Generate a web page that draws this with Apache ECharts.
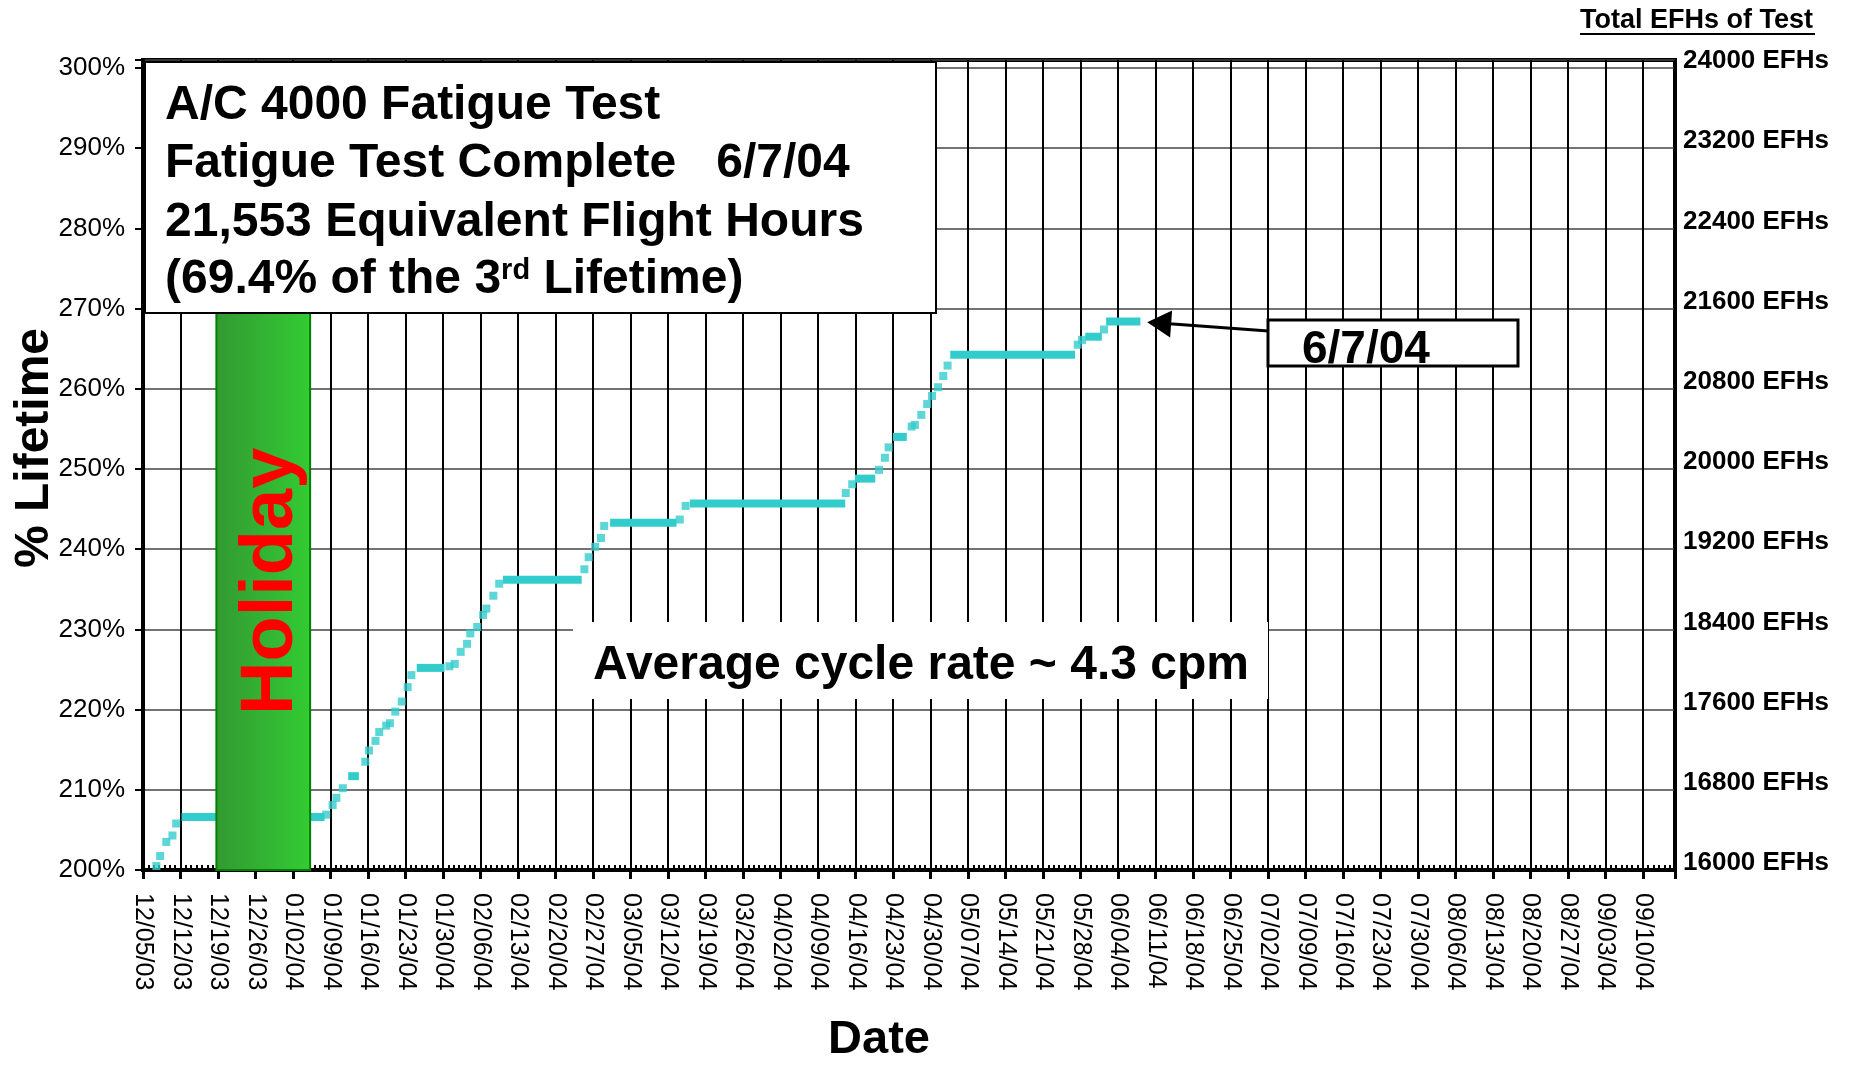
<!DOCTYPE html>
<html>
<head>
<meta charset="utf-8">
<title>A/C 4000 Fatigue Test</title>
<script src="https://cdn.jsdelivr.net/npm/echarts@6/dist/echarts.min.js"></script>
<style>
  html, body { margin: 0; padding: 0; background: #fff; }
  #chart { width: 1865px; height: 1067px; }
</style>
</head>
<body>
<div id="chart"></div>
<script>
// x values are days counted from 12/05/03 (first tick)
var weekLabels = ['12/05/03', '12/12/03', '12/19/03', '12/26/03', '01/02/04', '01/09/04', '01/16/04',
  '01/23/04', '01/30/04', '02/06/04', '02/13/04', '02/20/04', '02/27/04', '03/05/04', '03/12/04',
  '03/19/04', '03/26/04', '04/02/04', '04/09/04', '04/16/04', '04/23/04', '04/30/04', '05/07/04',
  '05/14/04', '05/21/04', '05/28/04', '06/04/04', '06/11/04', '06/18/04', '06/25/04', '07/02/04',
  '07/09/04', '07/16/04', '07/23/04', '07/30/04', '08/06/04', '08/13/04', '08/20/04', '08/27/04',
  '09/03/04', '09/10/04'];

// single test points (climbing parts)
var stepDays = [2.5, 3.2, 4.35, 5.5, 6.2, 34.2, 35.4, 36.1, 37.3, 41.5, 42.2, 43.4, 44.1, 45.4, 46.1,
  47.1, 48.3, 49.4, 50.1, 57.2, 58.2, 59.3, 60.5, 61.1, 62.4, 63.5, 64.1, 65.4, 66.5, 82.4, 83.2,
  84.4, 85.5, 86.1, 100.2, 101.3, 131.2, 132.4, 137.4, 138.5, 139.2, 143.5, 144.1, 145.3, 146.4,
  147.3, 148.4, 149.4, 150.2, 174.5, 175.3, 179.4];
var stepPct = [200.5, 201.75, 203.5, 204.3, 205.8, 206.9, 208.1, 209.0, 210.2, 213.5, 214.9, 216.1,
  217.2, 218.0, 218.3, 219.75, 221.0, 222.8, 224.3, 225.4, 225.7, 227.2, 228.2, 229.5, 230.3, 231.8,
  232.6, 234.2, 235.7, 237.5, 239.0, 240.3, 241.4, 242.9, 243.7, 245.4, 247.0, 248.1, 249.9, 251.4,
  252.7, 255.3, 255.5, 256.75, 258.1, 259.1, 260.2, 261.6, 262.9, 265.5, 266.1, 267.4];

// flat stretches (no cycling)
var flatFrom = [7.2, 38.3, 51.1, 67.2, 87.2, 102.1, 132.9, 140.0, 150.7, 175.9, 179.8];
var flatTo = [33.9, 40.3, 56.3, 81.9, 99.6, 131.1, 136.7, 142.6, 174.0, 179.0, 186.2];
var flatPct = [206.6, 211.7, 225.2, 236.2, 243.3, 245.7, 248.8, 254.0, 264.25, 266.5, 268.4];

var holidayFrom = 13.7;
var holidayTo = 31.2;

var efhPerPct = 80;   // 200% = 16000 EFHs, 300% = 24000 EFHs
var xMax = 286;
var yMin = 200, yMax = 301;

var FONT = '"Liberation Sans", Arial, sans-serif';
var CYAN = '#33cccc';

var chart = echarts.init(document.getElementById('chart'));

var stepData = stepDays.map(function (d, i) { return [d, stepPct[i]]; });
var lastDay = flatTo[flatTo.length - 1];
var lastPct = flatPct[flatPct.length - 1];

var flatSeries = flatFrom.map(function (d, i) {
  return {
    type: 'line',
    z: 3,
    silent: true,
    symbol: 'none',
    data: [[d, flatPct[i]], [flatTo[i], flatPct[i]]],
    lineStyle: { color: CYAN, width: 8, cap: 'butt' }
  };
});

function boldText(x, y, text, size) {
  return {
    type: 'text', z: 101, x: x, y: y,
    style: { text: text, fontSize: size, fontWeight: 'bold', fontFamily: FONT, fill: '#000', verticalAlign: 'middle' }
  };
}

var option = {
  animation: false,
  backgroundColor: '#fff',
  grid: {
    left: 143, right: 190, top: 60, bottom: 197,
    show: true, borderColor: '#000', borderWidth: 4,
    outerBoundsMode: 'none'
  },
  xAxis: [
    {
      type: 'value', min: 0, max: xMax, interval: 7, position: 'bottom',
      axisLine: { show: true, lineStyle: { color: '#000', width: 4 } },
      axisTick: { show: true, length: 9, lineStyle: { color: '#000', width: 3 } },
      axisLabel: {
        rotate: -90, margin: 23, fontSize: 25, color: '#000', fontFamily: FONT,
        formatter: function (v) { return v % 7 === 0 ? (weekLabels[v / 7] || '') : ''; }
      },
      splitLine: { show: true, lineStyle: { color: '#000', width: 2 } },
      name: 'Date', nameLocation: 'middle', nameGap: 147,
      nameTextStyle: { fontSize: 47, fontWeight: 'bold', color: '#000', fontFamily: FONT, padding: [0, 60, 0, 0] }
    },
    {
      type: 'value', min: 0, max: xMax, interval: 7, position: 'bottom',
      axisLine: { show: false },
      axisTick: { show: true, inside: true, length: 6, lineStyle: { color: '#000', width: 2 } },
      minorTick: { show: true, splitNumber: 7, length: 5, lineStyle: { color: '#000', width: 2 } },
      axisLabel: { show: false },
      splitLine: { show: false }
    }
  ],
  yAxis: [
    {
      type: 'value', min: yMin, max: yMax, interval: 10, position: 'left',
      axisLine: { show: true, lineStyle: { color: '#000', width: 4 } },
      axisTick: { show: true, length: 8, lineStyle: { color: '#000', width: 2 } },
      axisLabel: {
        fontSize: 26, color: '#000', margin: 18, fontFamily: FONT,
        formatter: function (v) { return v % 10 === 0 ? v + '%' : ''; }
      },
      splitLine: { show: true, lineStyle: { color: '#444', width: 1.5 } },
      name: '% Lifetime', nameLocation: 'middle', nameGap: 84, nameMoveOverlap: false,
      nameTextStyle: { fontSize: 48, fontWeight: 'bold', color: '#000', fontFamily: FONT, padding: [0, 0, 0, 34] }
    },
    {
      type: 'value', min: 16000, max: 16000 + (yMax - yMin) * efhPerPct, interval: 800, position: 'right',
      axisLine: { show: true, lineStyle: { color: '#000', width: 4 } },
      axisTick: { show: false },
      axisLabel: {
        fontSize: 26, fontWeight: 'bold', color: '#000', margin: 8, fontFamily: FONT,
        verticalAlign: 'bottom', lineHeight: 14,
        formatter: function (v) { return v % 800 === 0 ? v + ' EFHs' : ''; }
      },
      splitLine: { show: false }
    }
  ],
  graphic: [
    boldText(1580, 21, 'Total EFHs of Test', 27),
    {
      type: 'line', z: 100,
      shape: { x1: 1580, y1: 34, x2: 1815, y2: 34 },
      style: { stroke: '#000', lineWidth: 2 }
    },
    {
      type: 'rect', z: 100,
      shape: { x: 145, y: 62, width: 791, height: 251 },
      style: { fill: '#fff', stroke: '#000', lineWidth: 2 }
    },
    boldText(165, 106, 'A/C 4000 Fatigue Test', 48),
    boldText(165, 164, 'Fatigue Test Complete   6/7/04', 48),
    boldText(165, 223, '21,553 Equivalent Flight Hours', 48),
    {
      type: 'text', z: 101, x: 165, y: 280,
      style: {
        text: '(69.4% of the 3{sup|rd} Lifetime)', fontSize: 48, fontWeight: 'bold', fontFamily: FONT, fill: '#000', verticalAlign: 'middle',
        rich: { sup: { fontSize: 29, fontWeight: 'bold', fontFamily: FONT, fill: '#000', verticalAlign: 'top' } }
      }
    },
    {
      type: 'rect', z: 100,
      shape: { x: 573, y: 622, width: 695, height: 77 },
      style: { fill: '#fff', stroke: null }
    },
    boldText(593, 666, 'Average cycle rate ~ 4.3 cpm', 48),
    {
      type: 'rect', z: 100,
      shape: { x: 1268, y: 320, width: 250, height: 46 },
      style: { fill: '#fff', stroke: '#000', lineWidth: 3 }
    },
    boldText(1302, 350, '6/7/04', 46)
  ],
  series: [
    {
      type: 'scatter',
      name: '% Lifetime',
      z: 3,
      symbol: 'rect',
      symbolSize: 8,
      itemStyle: { color: CYAN },
      data: stepData,
      markLine: {
        silent: true,
        symbol: ['none', 'triangle'],
        label: { show: false },
        lineStyle: { color: '#000', width: 3, type: 'solid' },
        data: [[
          { coord: [210.1, 267.2], symbol: 'none' },
          { coord: [lastDay + 3.5, lastPct - 0.2], symbol: 'triangle', symbolSize: [27, 24] }
        ]]
      }
    }
  ].concat(flatSeries).concat([
    {
      type: 'custom',
      z: 5,
      silent: true,
      data: [[holidayFrom, yMin]],
      renderItem: function (params, api) {
        var tl = api.coord([holidayFrom, 285]);
        var br = api.coord([holidayTo, yMin]);
        var mid = api.coord([(holidayFrom + holidayTo) / 2, 236]);
        return {
          type: 'group',
          children: [
            {
              type: 'rect',
              shape: { x: tl[0], y: tl[1], width: br[0] - tl[0], height: br[1] - tl[1] },
              style: {
                fill: new echarts.graphic.LinearGradient(0, 0, 1, 0, [
                  { offset: 0, color: '#339933' },
                  { offset: 1, color: '#33cc33' }
                ]),
                stroke: '#008000', lineWidth: 2
              }
            },
            {
              type: 'text', x: mid[0] + 8, y: mid[1], rotation: Math.PI / 2,
              style: {
                text: 'Holiday', fill: '#ff0000', fontSize: 74, fontWeight: 'bold', fontFamily: FONT,
                align: 'center', verticalAlign: 'middle'
              }
            }
          ]
        };
      }
    }
  ])
};

chart.setOption(option);
</script>
</body>
</html>
